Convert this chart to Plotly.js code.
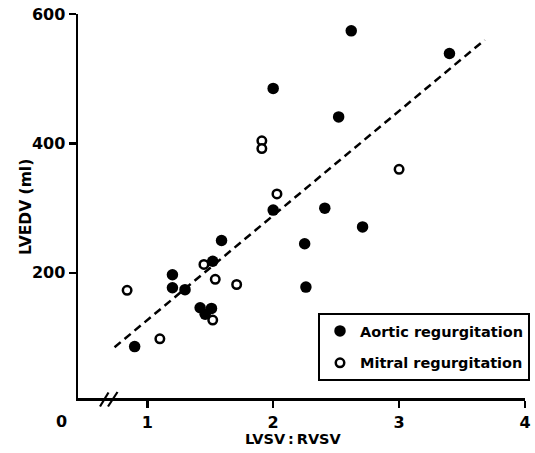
<!DOCTYPE html>
<html>
<head>
<meta charset="utf-8">
<script src="https://cdn.plot.ly/plotly-3.0.1.min.js"></script>
<style>html,body{margin:0;padding:0;background:#fff;}#chart{width:535px;height:453px;}</style>
</head>
<body>
<div id="chart"></div>
<script>
// Aortic regurgitation (filled circles)
const aorticX = [2.62, 3.40, 2.00, 2.52, 2.00, 2.41, 2.71, 1.59, 2.25, 1.52, 2.26, 1.20, 1.20, 1.30, 1.42, 1.51, 1.46, 0.90];
const aorticY = [574, 539, 485, 441, 297, 300, 271, 250, 245, 218, 178, 197, 177, 174, 146, 145, 136, 86];
// Mitral regurgitation (open circles)
const mitralX = [1.91, 1.91, 3.00, 2.03, 1.45, 1.54, 1.71, 0.84, 1.52, 1.10];
const mitralY = [404, 392, 360, 322, 213, 190, 182, 173, 127, 98];
// Regression line end points
const fitX = [0.74, 3.68];
const fitY = [85, 560];
// Tick labels
const xTicks = [1, 2, 3, 4];
const yTicks = [200, 400, 600];
const seriesNames = ["Aortic regurgitation", "Mitral regurgitation"];

const FONT = "DejaVu Sans, Liberation Sans, sans-serif";
const ML = 78, MR = 10, MT = 14, MB = 55, W = 535, H = 453;
const PW = W - ML - MR, PH = H - MT - MB;
const px = v => (v - ML) / PW;
const py = v => (H - MB - v) / PH;

const traces = [
  {x: fitX, y: fitY, mode: "lines", showlegend: false, hoverinfo: "skip",
   line: {color: "#000", width: 2.5, dash: "8px,5px"}},
  {x: aorticX, y: aorticY, mode: "markers", name: seriesNames[0], legendgroup: "a",
   marker: {symbol: "circle", size: 11.5, color: "#000", line: {width: 0}}},
  {x: mitralX, y: mitralY, mode: "markers", name: seriesNames[1], legendgroup: "m",
   marker: {symbol: "circle", size: 8.5, color: "#fff", line: {color: "#000", width: 2.5}}}
];

const layout = {
  width: W, height: H,
  margin: {l: ML, r: MR, t: MT, b: MB, autoexpand: false},
  paper_bgcolor: "#fff", plot_bgcolor: "#fff",
  font: {family: FONT, color: "#000", size: 15},
  xaxis: {
    range: [0.45, 4.0], tickvals: xTicks, ticktext: xTicks.map(String),
    showgrid: false, zeroline: false, showline: true, linecolor: "#000", linewidth: 2.5,
    ticks: "outside", ticklen: 7, tickwidth: 2.5, tickcolor: "#000",
    tickfont: {family: FONT, size: 16, weight: "bold", color: "#000"},
    ticklabelstandoff: 1
  },
  yaxis: {
    range: [6.6, 600], tickvals: yTicks, ticktext: yTicks.map(String),
    showgrid: false, zeroline: false, showline: true, linecolor: "#000", linewidth: 2.5,
    ticks: "outside", ticklen: 7, tickwidth: 2.5, tickcolor: "#000",
    tickfont: {family: FONT, size: 16, weight: "bold", color: "#000"}
  },
  legend: {
    x: px(318), y: py(313), xanchor: "left", yanchor: "top",
    bordercolor: "#000", borderwidth: 2, bgcolor: "#fff",
    traceorder: "grouped", tracegroupgap: 10,
    font: {family: FONT, size: 14.5, weight: "bold", color: "#000"}
  },
  annotations: [
    {text: "0", xref: "paper", yref: "paper", x: px(61.7), y: py(421.5), xanchor: "center", yanchor: "middle",
     showarrow: false, font: {family: FONT, size: 16, weight: "bold", color: "#000"}},
    {text: "LVSV\u2009:\u2009RVSV", xref: "paper", yref: "paper", x: px(293), y: py(439), xanchor: "center", yanchor: "middle",
     showarrow: false, font: {family: FONT, size: 14.5, weight: "bold", color: "#000"}},
    {text: "LVEDV (ml)", xref: "paper", yref: "paper", x: px(26), y: py(207), xanchor: "center", yanchor: "middle",
     textangle: -90, showarrow: false, font: {family: FONT, size: 15.5, weight: "bold", color: "#000"}}
  ],
  shapes: [
    {type: "line", xref: "paper", yref: "paper", x0: px(100), y0: py(406.5), x1: px(108.5), y1: py(392.5), line: {color: "#000", width: 2.2}},
    {type: "line", xref: "paper", yref: "paper", x0: px(108), y0: py(406.5), x1: px(117.5), y1: py(392), line: {color: "#000", width: 2.2}}
  ]
};

Plotly.newPlot("chart", traces, layout, {displayModeBar: false, staticPlot: true});
</script>
</body>
</html>
